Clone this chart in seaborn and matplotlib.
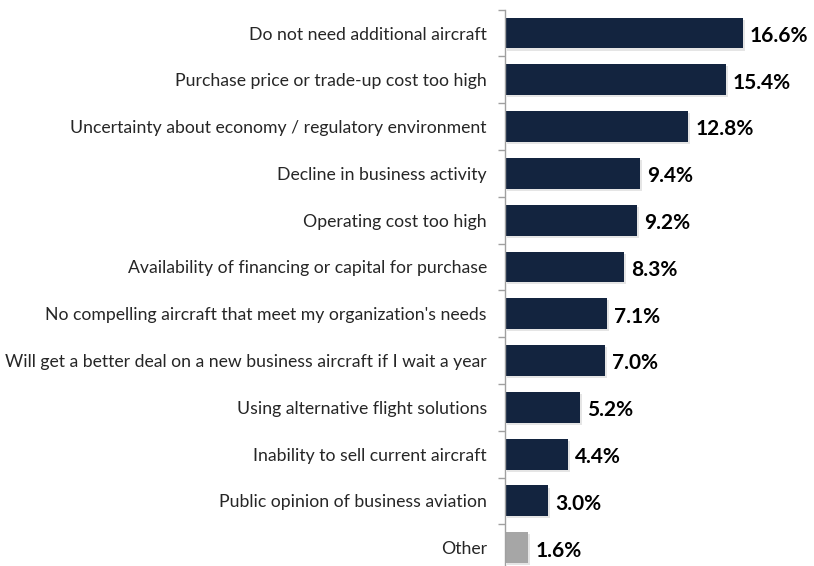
import matplotlib.pyplot as plt
import matplotlib.patheffects as pe
import seaborn as sns
import pandas as pd

# Data
reasons = [
    "Do not need additional aircraft",
    "Purchase price or trade-up cost too high",
    "Uncertainty about economy / regulatory environment",
    "Decline in business activity",
    "Operating cost too high",
    "Availability of financing or capital for purchase",
    "No compelling aircraft that meet my organization's needs",
    "Will get a better deal on a new business aircraft if I wait a year",
    "Using alternative flight solutions",
    "Inability to sell current aircraft",
    "Public opinion of business aviation",
    "Other",
]
shares = [16.6, 15.4, 12.8, 9.4, 9.2, 8.3, 7.1, 7.0, 5.2, 4.4, 3.0, 1.6]
colors = ["#13243f"] * 11 + ["#a6a6a6"]

df = pd.DataFrame({"reason": reasons, "share": shares})

sns.set_style("white")
plt.rcParams["font.family"] = ["Lato", "DejaVu Sans"]

fig = plt.figure(figsize=(8.14, 5.66), dpi=100)
ax = fig.add_axes([0.6204, -0.009, 0.352, 0.992])

sns.barplot(data=df, x="share", y="reason", hue="reason", palette=colors,
            legend=False, width=0.66, ax=ax, saturation=1, edgecolor="none")

# soft drop shadow like the original
for p in ax.patches:
    p.set_path_effects([pe.SimplePatchShadow(offset=(1.5, -1.5), shadow_rgbFace="#999999", alpha=0.25),
                        pe.Normal()])

for i, v in enumerate(shares):
    ax.text(v + 0.5, i + 0.06, f"{v:.1f}%", va="center", ha="left",
            fontsize=15, fontweight="bold", color="black")

ax.set_xlim(0, 20)
ax.set_ylim(11.5, -0.5)
ax.set_xlabel("")
ax.set_ylabel("")
ax.set_xticks([])
ax.set_yticks([i - 0.5 for i in range(13)], minor=False)
ax.set_yticklabels([])
ax.set_yticks(range(12), minor=True)
ax.set_yticklabels(reasons, minor=True, fontsize=12.7)
ax.tick_params(axis="y", which="major", length=5, color="#a0a0a0", width=1, left=True)
ax.tick_params(axis="y", which="minor", length=0, pad=13)

for s in ["top", "right", "bottom"]:
    ax.spines[s].set_visible(False)
ax.spines["left"].set_color("#a0a0a0")
ax.spines["left"].set_linewidth(1)

fig.savefig("out.png", dpi=100)
